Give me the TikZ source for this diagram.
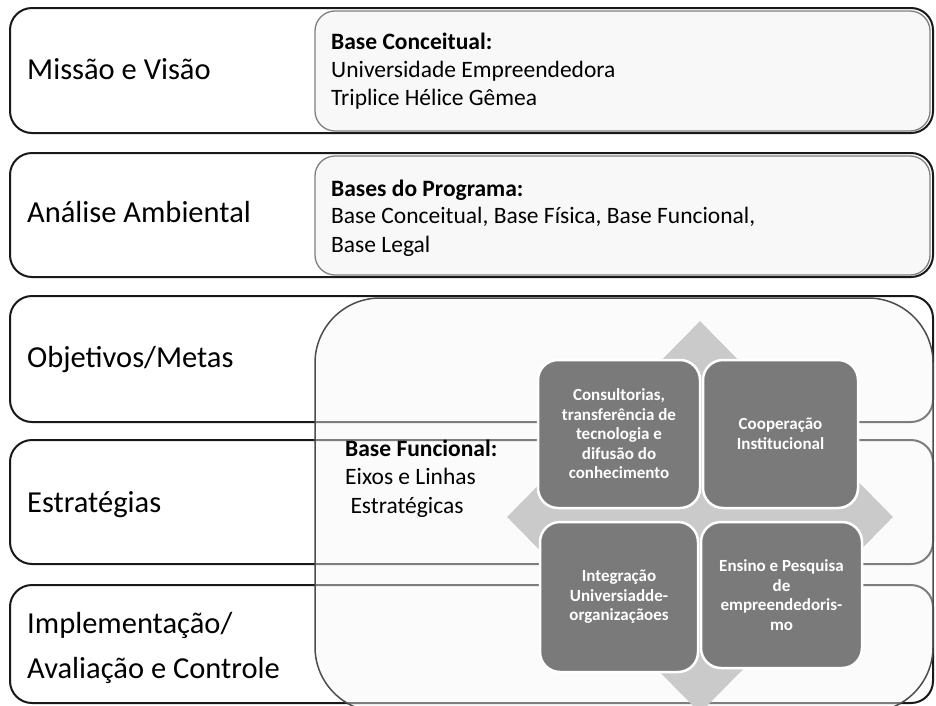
\documentclass[tikz,border=0pt]{standalone}
\usepackage{fontspec}
\setmainfont{Carlito}
\usetikzlibrary{shapes.geometric}
\definecolor{sqfill}{HTML}{7A7A7A}
\definecolor{dia}{HTML}{CACACA}
\definecolor{innerfill}{HTML}{F8F8F8}
\definecolor{innerline}{HTML}{808080}
\begin{document}
\begin{tikzpicture}[x=1pt,y=-1pt,
 outerbox/.style={draw=black!90, line width=2pt, rounded corners=22pt, fill=white},
 innerbox/.style={draw=innerline, line width=1.3pt, rounded corners=20pt, fill=innerfill},
 bigbox/.style={draw=black!70, line width=1.5pt, rounded corners=65pt, fill=innerfill, fill opacity=0.45},
 sq/.style={draw=white, line width=2.5pt, rounded corners=20pt, fill=sqfill, text=white, font=\bfseries\fontsize{17}{19.5}\selectfont, align=center, inner sep=0pt},
 lbl/.style={anchor=base west, font=\fontsize{30.5}{36}\selectfont, inner sep=0pt},
 txt/.style={anchor=base west, font=\fontsize{23.5}{28}\selectfont, inner sep=0pt},
 txtb/.style={txt, font=\bfseries\fontsize{23.5}{28}\selectfont},
]
\useasboundingbox (0,0) rectangle (936,705);
\fill[white] (0,0) rectangle (936,705);
% outer rows
\draw[outerbox] (10,8) rectangle (933,133);
\draw[outerbox] (10,153) rectangle (933,277);
\draw[outerbox] (10,296) rectangle (933,422);
\draw[outerbox] (10,440) rectangle (933,564);
\draw[outerbox] (10,585) rectangle (933,703);
% inner boxes
\draw[innerbox] (315,11) rectangle (930,131);
\draw[innerbox] (315,156) rectangle (930,275);
\draw[bigbox] (315,298) rectangle (933,712);
% diamond
\node[diamond, fill=dia, inner sep=0pt, minimum width=386pt, minimum height=392pt] (dm) at (700,517) {};
% squares
\node[sq, minimum width=162pt, minimum height=148pt] (tl) at (619,434) {Consultorias,\\transferência de\\tecnologia e\\difusão do\\conhecimento};
\node[sq, minimum width=155pt, minimum height=148pt] (tr) at (780.5,434) {Cooperação\\Institucional};
\node[sq, minimum width=158pt, minimum height=150pt] (bl) at (619,597) {Integração\\Universiadde-\\organizaçãoes};
\node[sq, minimum width=161pt, minimum height=146pt] (br) at (781.5,595) {Ensino e Pesquisa\\de\\empreendedoris-\\mo};
% left labels
\node[lbl] (l1) at (27,79) {Missão e Visão};
\node[lbl] (l2) at (27,222) {Análise Ambiental};
\node[lbl] (l3) at (27,367) {Objetivos/Metas};
\node[lbl] (l4) at (27,512) {Estratégias};
\node[lbl] (l5a) at (27,633) {Implementação/};
\node[lbl] (l5b) at (27,678) {Avaliação e Controle};
% inner texts
\node[txtb] (c1) at (331,49) {Base Conceitual:};
\node[txt] (c2) at (331,77) {Universidade Empreendedora};
\node[txt] (c3) at (331,105) {Triplice Hélice Gêmea};
\node[txtb] (p1) at (331,196) {Bases do Programa:};
\node[txt] (p2) at (331,223) {Base Conceitual, Base Física, Base Funcional,};
\node[txt] (p3) at (331,252) {Base Legal};
\node[txtb] (f1) at (345,456) {Base Funcional:};
\node[txt] (f2) at (345,484) {Eixos e Linhas};
\node[txt] (f3) at (345,513) {\ Estratégicas};
\end{tikzpicture}
\end{document}
